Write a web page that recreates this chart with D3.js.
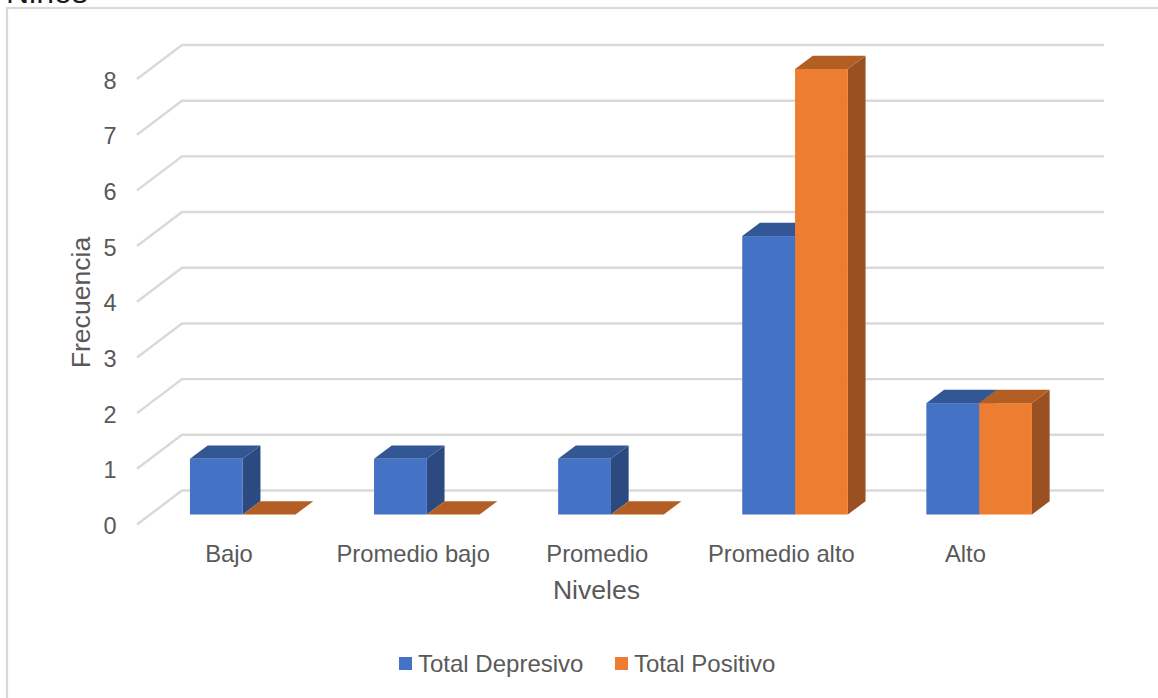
<!DOCTYPE html>
<html>
<head>
<meta charset="utf-8">
<script src="https://cdn.jsdelivr.net/npm/d3@7/dist/d3.min.js"></script>
<style>
html,body{margin:0;padding:0;background:#fff;overflow:hidden}
svg{display:block}
text{font-family:"Liberation Sans",Arial,sans-serif;fill:#595959}
</style>
</head>
<body>
<svg id="chart" width="1158" height="698"></svg>
<script>
// Frequency of each level, split by the two totals
const categories = ["Bajo", "Promedio bajo", "Promedio", "Promedio alto", "Alto"];
const totalDepresivo = [1, 1, 1, 5, 2];
const totalPositivo = [0, 0, 0, 8, 2];
const yTicks = [0, 1, 2, 3, 4, 5, 6, 7, 8];
const seriesNames = ["Total Depresivo", "Total Positivo"];
const seriesColors = ["#4472c4", "#ed7d31"];
const sideColors = ["#2c4a80", "#9a5020"];
const topColors = ["#335694", "#b25e24"];

const svg = d3.select("#chart");

// Outer chart frame and the heading above it, which runs off the top edge
svg.append("text").attr("x", 6).attr("y", 3).attr("font-size", 32).style("fill", "#1a1a1a").text("Niños");
svg.append("rect").attr("x", 7).attr("y", 8).attr("width", 1200).attr("height", 800)
  .attr("fill", "#fff").attr("stroke", "#d9d9d9").attr("stroke-width", 2.2);

// Back wall scales; the floor projects forward by a fixed oblique offset
const y = d3.scaleLinear().domain([0, 8]).range([490.5, 45]);
const wallLeft = 182, wallRight = 1104;
const floorDx = -45, floorDy = 34;
const x = d3.scaleBand().domain(categories).range([wallLeft + floorDx, 1057.5]);

// Gridlines: the back wall segment plus the side wall segment
const grid = svg.append("g").attr("fill", "none").attr("stroke", "#d9d9d9").attr("stroke-width", 2.4);
yTicks.forEach(t => {
  grid.append("polyline").attr("points", [
    [wallLeft + floorDx, y(t) + floorDy], [wallLeft, y(t)], [wallRight, y(t)]
  ].join(" "));
});

// Value axis labels, placed with the scale
svg.append("g").selectAll("text").data(yTicks).join("text")
  .attr("x", 110).attr("y", d => y(d) + floorDy + 9.5)
  .attr("text-anchor", "middle").attr("font-size", 23.5).text(d => d);

// Oblique 3D bars sit partway back on the floor
const barInsetX = 13.7, barInsetY = -10;
const barWidth = 52.8, depthX = 17.7, depthY = -13.3;
const bars = svg.append("g");

function drawBar(cat, value, s) {
  const cx = x(cat) + x.bandwidth() / 2 + barInsetX;
  const x0 = s === 0 ? cx - barWidth : cx;
  const x1 = x0 + barWidth;
  const base = y(0) + floorDy + barInsetY;
  const top = y(value) + floorDy + barInsetY;
  // side face
  bars.append("polygon").attr("fill", sideColors[s]).attr("points", [
    [x1, top], [x1 + depthX, top + depthY], [x1 + depthX, base + depthY], [x1, base]
  ].join(" "));
  // top face
  bars.append("polygon").attr("fill", topColors[s]).attr("points", [
    [x0, top], [x0 + depthX, top + depthY], [x1 + depthX, top + depthY], [x1, top]
  ].join(" "));
  // front face
  if (value > 0) {
    bars.append("rect").attr("x", x0).attr("y", top).attr("width", barWidth).attr("height", base - top)
      .attr("fill", seriesColors[s]);
  }
}

categories.forEach((cat, i) => {
  drawBar(cat, totalDepresivo[i], 0);
  drawBar(cat, totalPositivo[i], 1);
});

// Category labels and axis titles
svg.append("g").selectAll("text").data(categories).join("text")
  .attr("x", d => x(d) + x.bandwidth() / 2).attr("y", 562)
  .attr("text-anchor", "middle").attr("font-size", 23.8).text(d => d);

svg.append("text").attr("x", 596.5).attr("y", 599).attr("text-anchor", "middle")
  .attr("font-size", 26.6).text("Niveles");

svg.append("text").attr("transform", "translate(89.5,302.5) rotate(-90)")
  .attr("text-anchor", "middle").attr("font-size", 26.6).text("Frecuencia");

// Legend
const legendX = [399, 615];
const legend = svg.append("g").selectAll("g").data(seriesNames).join("g")
  .attr("transform", (d, i) => `translate(${legendX[i]},657)`);
legend.append("rect").attr("width", 13).attr("height", 13).attr("fill", (d, i) => seriesColors[i]);
legend.append("text").attr("x", 19).attr("y", 15).attr("font-size", 24).text(d => d);
</script>
</body>
</html>
